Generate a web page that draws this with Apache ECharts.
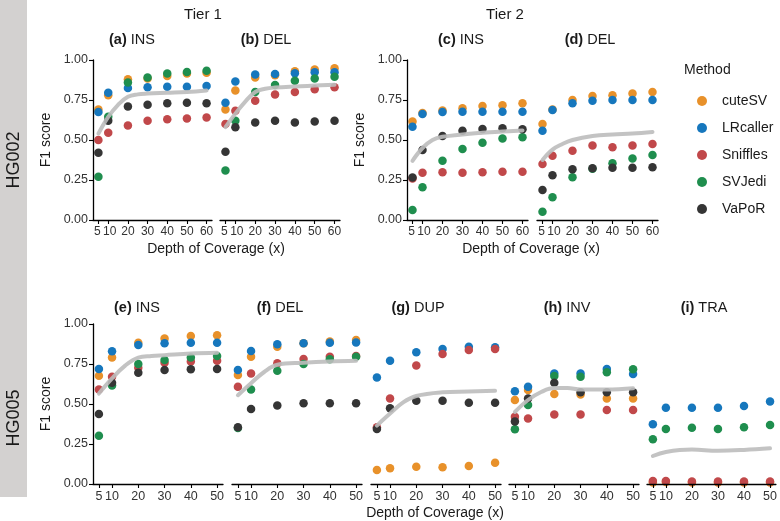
<!DOCTYPE html>
<html><head><meta charset="utf-8">
<script src="https://cdn.jsdelivr.net/npm/echarts@6/dist/echarts.min.js"></script>
<style>html,body{margin:0;padding:0;background:#fff}#c{width:780px;height:521px}</style>
</head><body><div id="c"></div>
<script>
// ---------- data ----------
const methods = ['cuteSV', 'LRcaller', 'Sniffles', 'SVJedi', 'VaPoR'];
const depthsHG002 = [5, 10, 20, 30, 40, 50, 60];
const depthsHG005 = [5, 10, 20, 30, 40, 50];
const tickLabelsHG002 = [5, 10, 20, 30, 40, 50, 60];
const tickLabelsHG005 = [5, 10, 20, 30, 40, 50];

// rows follow the order of `methods`; null = method not shown for that SV type
const a_INS = [
  [0.69, 0.78, 0.88, 0.885, 0.90, 0.915, 0.92],
  [0.675, 0.795, 0.825, 0.83, 0.833, 0.833, 0.837],
  [0.50, 0.545, 0.59, 0.62, 0.63, 0.635, 0.64],
  [0.27, 0.645, 0.86, 0.89, 0.915, 0.925, 0.933],
  [0.42, 0.62, 0.71, 0.72, 0.73, 0.733, 0.73]
];
const a_trendX = [5, 10, 15, 20, 25, 30, 40, 50, 60];
const a_trend  = [0.54, 0.645, 0.72, 0.77, 0.785, 0.79, 0.795, 0.80, 0.81];

const b_DEL = [
  [0.69, 0.81, 0.89, 0.905, 0.93, 0.94, 0.948],
  [0.733, 0.865, 0.91, 0.913, 0.917, 0.923, 0.923],
  [0.60, 0.683, 0.746, 0.785, 0.80, 0.817, 0.83],
  [0.31, 0.62, 0.80, 0.844, 0.87, 0.885, 0.896],
  [0.427, 0.58, 0.61, 0.62, 0.61, 0.615, 0.62]
];
const b_trendX = [5, 10, 15, 20, 25, 30, 40, 50, 60];
const b_trend  = [0.58, 0.665, 0.74, 0.80, 0.82, 0.828, 0.835, 0.84, 0.845];

const c_INS = [
  [0.615, 0.668, 0.685, 0.698, 0.7125, 0.717, 0.73],
  [0.583, 0.662, 0.675, 0.677, 0.677, 0.677, 0.677],
  [0.26, 0.296, 0.298, 0.296, 0.298, 0.302, 0.302],
  [0.0625, 0.204, 0.37, 0.444, 0.483, 0.51, 0.517],
  [0.265, 0.4375, 0.525, 0.558, 0.569, 0.573, 0.567]
];
const c_trendX = [5, 10, 15, 20, 30, 40, 50, 60];
const c_trend  = [0.37, 0.45, 0.50, 0.52, 0.535, 0.545, 0.553, 0.56];

const d_DEL = [
  [0.60, 0.69, 0.75, 0.775, 0.78, 0.79, 0.80],
  [0.558, 0.6875, 0.73, 0.745, 0.75, 0.75, 0.75],
  [0.35, 0.402, 0.433, 0.465, 0.454, 0.465, 0.475],
  [0.052, 0.142, 0.267, 0.32, 0.354, 0.385, 0.406],
  [0.1875, 0.28, 0.317, 0.323, 0.327, 0.327, 0.329]
];
const d_trendX = [5, 10, 15, 20, 30, 40, 50, 60];
const d_trend  = [0.375, 0.44, 0.475, 0.50, 0.525, 0.535, 0.54, 0.55];

const e_INS = [
  [0.677, 0.79, 0.883, 0.91, 0.925, 0.93],
  [0.719, 0.83, 0.869, 0.88, 0.883, 0.883],
  [0.59, 0.67, 0.727, 0.758, 0.765, 0.77],
  [0.302, 0.615, 0.75, 0.775, 0.79, 0.80],
  [0.4375, 0.633, 0.695, 0.7125, 0.717, 0.719]
];
const e_trendX = [5, 10, 15, 20, 25, 30, 40, 50];
const e_trend  = [0.565, 0.66, 0.74, 0.79, 0.80, 0.805, 0.815, 0.82];

const f_DEL = [
  [0.681, 0.796, 0.858, 0.88, 0.89, 0.90],
  [0.7125, 0.831, 0.873, 0.879, 0.883, 0.885],
  [0.608, 0.69, 0.754, 0.781, 0.796, 0.80],
  [0.35, 0.59, 0.708, 0.75, 0.779, 0.796],
  [0.354, 0.469, 0.49, 0.504, 0.504, 0.504]
];
const f_trendX = [5, 10, 15, 20, 30, 40, 50];
const f_trend  = [0.555, 0.63, 0.70, 0.745, 0.758, 0.766, 0.77];

const g_DUP = [
  [0.0875, 0.098, 0.108, 0.104, 0.1125, 0.133],
  [0.665, 0.77, 0.823, 0.844, 0.858, 0.854],
  [0.354, 0.535, 0.74, 0.8125, 0.8375, 0.844],
  null,
  [0.344, 0.473, 0.52, 0.52, 0.508, 0.508]
];
const g_trendX = [5, 10, 15, 20, 30, 40, 50];
const g_trend  = [0.365, 0.44, 0.51, 0.55, 0.573, 0.578, 0.583];

const h_INV = [
  [0.525, 0.5875, 0.5625, 0.56, 0.535, 0.535],
  [0.58, 0.608, 0.69, 0.69, 0.719, 0.6875],
  [0.42, 0.41, 0.435, 0.435, 0.4625, 0.4625],
  [0.342, 0.494, 0.675, 0.671, 0.698, 0.717],
  [0.39, 0.535, 0.633, 0.573, 0.573, 0.573]
];
const h_trendX = [5, 10, 15, 20, 25, 30, 40, 50];
const h_trend  = [0.45, 0.525, 0.575, 0.60, 0.60, 0.59, 0.59, 0.598];

const i_TRA = [
  [0.01, 0.012, 0.01, 0.01, 0.01, 0.01],
  [0.373, 0.477, 0.477, 0.477, 0.4875, 0.515],
  [0.019, 0.019, 0.015, 0.015, 0.015, 0.015],
  [0.279, 0.344, 0.352, 0.344, 0.354, 0.369],
  null
];
const i_trendX = [5, 10, 20, 30, 40, 50];
const i_trend  = [0.175, 0.20, 0.215, 0.208, 0.213, 0.223];

// ---------- styling / layout ----------
const colors = ['#E8912A', '#1677BD', '#C1484A', '#1F8E4E', '#353535'];
const FONT = '"Liberation Sans", Arial, Helvetica, sans-serif';
const TXT = '#1a1a1a';

const panels = [
  {vals: a_INS, tx: a_trendX, ty: a_trend, depths: depthsHG002, ticks: tickLabelsHG002, left: 93,  top: 60,  width: 119, xmin: 2.25, xmax: 62.75, yaxis: true,
   tag: '(a)', type: 'INS', tcx: 132, tcy: 40, fs: 12, nudge: true},
  {vals: b_DEL, tx: b_trendX, ty: b_trend, depths: depthsHG002, ticks: tickLabelsHG002, left: 220, top: 60,  width: 120, xmin: 2.25, xmax: 62.75, yaxis: false,
   tag: '(b)', type: 'DEL', tcx: 266, tcy: 40, fs: 12, nudge: true},
  {vals: c_INS, tx: c_trendX, ty: c_trend, depths: depthsHG002, ticks: tickLabelsHG002, left: 407, top: 60,  width: 121, xmin: 2.25, xmax: 62.75, yaxis: true,
   tag: '(c)', type: 'INS', tcx: 461, tcy: 40, fs: 12, nudge: true},
  {vals: d_DEL, tx: d_trendX, ty: d_trend, depths: depthsHG002, ticks: tickLabelsHG002, left: 537, top: 60,  width: 121, xmin: 2.25, xmax: 62.75, yaxis: false,
   tag: '(d)', type: 'DEL', tcx: 590, tcy: 40, fs: 12, nudge: true},
  {vals: e_INS, tx: e_trendX, ty: e_trend, depths: depthsHG005, ticks: tickLabelsHG005, left: 93,  top: 324, width: 130, xmin: 2.75, xmax: 52.25, yaxis: true,
   tag: '(e)', type: 'INS', tcx: 137, tcy: 308, fs: 12.5, nudge: false},
  {vals: f_DEL, tx: f_trendX, ty: f_trend, depths: depthsHG005, ticks: tickLabelsHG005, left: 232, top: 324, width: 130, xmin: 2.75, xmax: 52.25, yaxis: false,
   tag: '(f)', type: 'DEL', tcx: 280, tcy: 308, fs: 12.5, nudge: false},
  {vals: g_DUP, tx: g_trendX, ty: g_trend, depths: depthsHG005, ticks: tickLabelsHG005, left: 371, top: 324, width: 130, xmin: 2.75, xmax: 52.25, yaxis: false,
   tag: '(g)', type: 'DUP', tcx: 418, tcy: 308, fs: 12.5, nudge: false},
  {vals: h_INV, tx: h_trendX, ty: h_trend, depths: depthsHG005, ticks: tickLabelsHG005, left: 509, top: 324, width: 130, xmin: 2.75, xmax: 52.25, yaxis: false,
   tag: '(h)', type: 'INV', tcx: 567, tcy: 308, fs: 12.5, nudge: false},
  {vals: i_TRA, tx: i_trendX, ty: i_trend, depths: depthsHG005, ticks: tickLabelsHG005, left: 647, top: 324, width: 130, xmin: 2.75, xmax: 52.25, yaxis: false,
   tag: '(i)', type: 'TRA', tcx: 704, tcy: 308, fs: 12.5, nudge: false}
];

const grid = [], xAxis = [], yAxis = [], series = [];
const graphic = [];

graphic.push({type: 'rect', shape: {x: 0, y: 0, width: 27, height: 497}, style: {fill: '#D3D1D0'}, silent: true});
function txt(x, y, text, size, opts) {
  graphic.push(Object.assign({type: 'text', x: x, y: y, silent: true,
    style: Object.assign({text: text, fill: TXT, font: size + 'px ' + FONT, textAlign: 'center', textVerticalAlign: 'middle'}, (opts && opts.style) || {})},
    (opts && opts.el) || {}));
}
txt(14, 160, 'HG002', 18, {el: {rotation: Math.PI / 2}});
txt(14, 418, 'HG005', 18, {el: {rotation: Math.PI / 2}});
txt(203, 15, 'Tier 1', 15);
txt(505, 15, 'Tier 2', 15);
txt(216, 249, 'Depth of Coverage (x)', 14);
txt(531, 249, 'Depth of Coverage (x)', 14);
txt(435, 513, 'Depth of Coverage (x)', 14);
txt(46, 140, 'F1 score', 14, {el: {rotation: Math.PI / 2}});
txt(360, 140, 'F1 score', 14, {el: {rotation: Math.PI / 2}});
txt(46, 404, 'F1 score', 14, {el: {rotation: Math.PI / 2}});
txt(684, 70, 'Method', 14, {style: {textAlign: 'left'}});

panels.forEach((p, i) => {
  grid.push({left: p.left, top: p.top, width: p.width, height: 160, containLabel: false});
  // an empty label at the axis minimum keeps ECharts' min-label overlap check away from "5"/"10"
  const labelValues = [p.xmin].concat(p.ticks);
  const lbl = {color: '#333', fontSize: p.fs, fontFamily: FONT};
  xAxis.push({
    gridIndex: i, type: 'value', min: p.xmin, max: p.xmax, z: 5,
    axisLine: {show: true, onZero: false, lineStyle: {color: '#000', width: 1.3}},
    axisTick: {show: true, customValues: p.ticks, length: 4, lineStyle: {color: '#000', width: 1.1}},
    axisLabel: Object.assign({customValues: labelValues, margin: 6, hideOverlap: false,
      formatter: v => {
        if (v === p.xmin) return '';
        if (p.nudge && v === 5) return '{l|5}';
        if (p.nudge && v === 10) return '{r|10}';
        return String(v);
      },
      rich: {l: Object.assign({padding: [0, 2, 0, 0]}, lbl), r: Object.assign({padding: [0, 0, 0, 3]}, lbl)}
    }, lbl),
    splitLine: {show: false}
  });
  yAxis.push({
    gridIndex: i, type: 'value', min: 0, max: 1, interval: 0.25, show: p.yaxis, z: 5,
    axisLine: {show: true, lineStyle: {color: '#000', width: 1.3}},
    axisTick: {show: true, length: 4, lineStyle: {color: '#000', width: 1.1}},
    axisLabel: {color: '#333', fontSize: 12.5, fontFamily: FONT, margin: 5, formatter: v => v.toFixed(2)},
    splitLine: {show: false}
  });
  p.vals.forEach((row, j) => {
    if (!row) return;
    series.push({
      type: 'scatter', name: methods[j], xAxisIndex: i, yAxisIndex: i,
      data: p.depths.map((d, k) => [d, row[k]]),
      symbol: 'circle', symbolSize: 8.5, itemStyle: {color: colors[j], opacity: 1},
      z: 2, silent: true, clip: false
    });
  });
  series.push({
    type: 'line', name: 'trend', xAxisIndex: i, yAxisIndex: i,
    data: p.tx.map((x, k) => [x, p.ty[k]]),
    smooth: 0.4, showSymbol: false, symbol: 'none',
    lineStyle: {color: '#BDBDBD', width: 4, opacity: 0.9, cap: 'round'},
    z: 3, silent: true
  });
  graphic.push({type: 'text', x: p.tcx, y: p.tcy, silent: true,
    style: {text: '{b|' + p.tag + '} ' + p.type, fill: TXT, font: '14.5px ' + FONT, textAlign: 'center', textVerticalAlign: 'middle',
      rich: {b: {fontWeight: 'bold', fontSize: 14.5, fontFamily: FONT, fill: TXT}}}});
});

const chart = echarts.init(document.getElementById('c'), null, {renderer: 'canvas'});
chart.setOption({
  animation: false,
  backgroundColor: '#fff',
  textStyle: {fontFamily: FONT},
  grid, xAxis, yAxis, series, graphic,
  legend: {
    data: methods, orient: 'vertical', left: 692, top: 88, icon: 'circle',
    itemWidth: 10, itemHeight: 10, itemGap: 11, selectedMode: false,
    textStyle: {fontSize: 14, color: TXT, fontFamily: FONT, lineHeight: 16, padding: [0, 0, 0, 10]}
  }
});
</script></body></html>
